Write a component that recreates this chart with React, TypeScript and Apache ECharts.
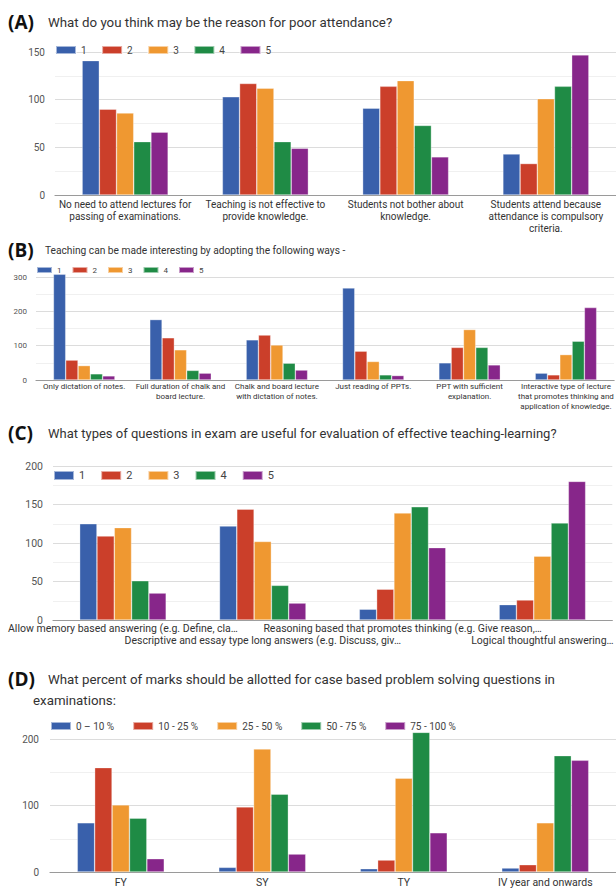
import React, { useEffect, useRef } from "react";
import * as echarts from "echarts";

// ---------- DATA ----------
const rankNames = ["1", "2", "3", "4", "5"];
const percentNames = ["0 – 10 %", "10 - 25 %", "25 - 50 %", "50 - 75 %", "75 - 100 %"];
const palette = ["#3960ab", "#cb3f2a", "#ef9831", "#1f8b45", "#87268a"];

const panelLetters = ["(A)", "(B)", "(C)", "(D)"];
const panelTitles = [
  "What do you think may be the reason for poor attendance?",
  "Teaching can be made interesting by adopting the following ways -",
  "What types of questions in exam are useful for evaluation of effective teaching-learning?",
  "What percent of marks should be allotted for case based problem solving questions in",
];
const panelTitleD2 = "examinations:";

// Panel A
const aCategories = [
  "No need to attend lectures for\npassing of examinations.",
  "Teaching is not effective to\nprovide knowledge.",
  "Students not bother about\nknowledge.",
  "Students attend because\nattendance is compulsory\ncriteria.",
];
const aTicks = [0, 50, 100, 150];
const aSeries = [
  [141, 103, 91, 43],
  [90, 117, 114, 33],
  [86, 112, 120, 101],
  [56, 56, 73, 114],
  [66, 49, 40, 147],
];

// Panel B
const bCategories = [
  "Only dictation of notes.",
  "Full duration of chalk and\nboard lecture.",
  "Chalk and board lecture\nwith dictation of notes.",
  "Just reading of PPTs.",
  "PPT with sufficient\nexplanation.",
  "Interactive type of lecture\nthat promotes thinking and\napplication of knowledge.",
];
const bTicks = [0, 100, 200, 300];
const bSeries = [
  [308, 176, 117, 268, 50, 20],
  [58, 123, 131, 84, 95, 15],
  [42, 88, 102, 54, 147, 74],
  [18, 28, 49, 15, 95, 113],
  [12, 20, 29, 13, 44, 211],
];

// Panel C
const cCategories = [
  "Allow memory based answering (e.g. Define, cla…",
  "Descriptive and essay type long answers (e.g. Discuss, giv…",
  "Reasoning based that promotes thinking (e.g. Give reason,…",
  "Logical thoughtful answering…",
];
const cTicks = [0, 50, 100, 150, 200];
const cSeries = [
  [125, 122, 14, 20],
  [109, 144, 40, 26],
  [120, 102, 139, 83],
  [51, 45, 147, 126],
  [35, 22, 94, 180],
];

// Panel D
const dCategories = ["FY", "SY", "TY", "IV year and onwards"];
const dTicks = [0, 100, 200];
const dSeries = [
  [74, 7, 5, 6],
  [157, 98, 18, 11],
  [101, 185, 141, 74],
  [81, 117, 210, 175],
  [20, 27, 59, 168],
];

// ---------- LAYOUT ----------
const FONT = "Roboto";
const panels = [
  {
    grid: { left: 55, top: 52, width: 562, height: 143 },
    cats: aCategories, ticks: aTicks, series: aSeries, names: rankNames,
    barWidth: 17.2, yFont: 10, yMargin: 10, xFont: 10, xLine: 12, xMargin: 3,
    legend: { left: 55, top: 45, itemWidth: 20, itemHeight: 8, itemGap: 14.5, fontSize: 10 },
    stagger: false,
  },
  {
    grid: { left: 36, top: 277, width: 588, height: 103 },
    cats: bCategories, ticks: bTicks, series: bSeries, names: rankNames,
    barWidth: 12.3, yFont: 8, yMargin: 9, xFont: 8, xLine: 10, xMargin: 1,
    legend: { left: 36, top: 266, itemWidth: 15, itemHeight: 6, itemGap: 10, fontSize: 8 },
    stagger: false,
  },
  {
    grid: { left: 53, top: 466, width: 564, height: 154 },
    cats: cCategories, ticks: cTicks, series: cSeries, names: rankNames,
    barWidth: 17.3, yFont: 10.5, yMargin: 10, xFont: 10.5, xLine: 12, xMargin: 2.5,
    legend: { left: 53, top: 470, itemWidth: 20, itemHeight: 9, itemGap: 15, fontSize: 11 },
    stagger: true,
  },
  {
    grid: { left: 50, top: 739, width: 572, height: 134 },
    cats: dCategories, ticks: dTicks, series: dSeries, names: percentNames,
    barWidth: 17.4, yFont: 10, yMargin: 11, xFont: 10.5, xLine: 12, xMargin: 4,
    legend: { left: 50, top: 721, itemWidth: 20, itemHeight: 8, itemGap: 18, fontSize: 10 },
    stagger: false,
  },
];

const titleY = [22, 250, 433, 679];
const titleFont = ["13.3px", "10.2px", "13px", "13.3px"];

function buildOption() {
  const grid: any[] = [];
  const xAxis: any[] = [];
  const yAxis: any[] = [];
  const series: any[] = [];
  const legend: any[] = [];

  panels.forEach((p, pi) => {
    grid.push({ ...p.grid, containLabel: false });
    xAxis.push({
      type: "category",
      gridIndex: pi,
      data: p.cats,
      axisTick: { show: false },
      axisLine: { lineStyle: { color: "#9a9a9a", width: 1.2 } },
      axisLabel: {
        interval: 0,
        color: "#333",
        fontFamily: FONT,
        fontSize: p.xFont,
        lineHeight: p.xLine,
        margin: p.xMargin,
        formatter: p.stagger
          ? (v: string, i: number) => (i % 2 === 1 ? "\n" + v : v)
          : undefined,
      },
    });
    const step = p.ticks[1] - p.ticks[0];
    yAxis.push({
      type: "value",
      gridIndex: pi,
      min: p.ticks[0],
      max: p.ticks[p.ticks.length - 1],
      interval: step,
      axisLine: { show: false },
      axisTick: { show: false },
      axisLabel: { color: "#555", fontFamily: FONT, fontSize: p.yFont, margin: p.yMargin },
      splitLine: { lineStyle: { color: "#dcdcdc", width: 1 } },
      minorTick: { show: false, splitNumber: 2 },
      minorSplitLine: { show: true, lineStyle: { color: "#f0f0f0", width: 1 } },
    });
    p.series.forEach((vals, si) => {
      series.push({
        type: "bar",
        name: p.names[si],
        xAxisIndex: pi,
        yAxisIndex: pi,
        data: vals,
        barWidth: p.barWidth,
        barGap: "0%",
        clip: false,
        itemStyle: {
          color: palette[si],
          borderColor: "rgba(255,255,255,0.55)",
          borderWidth: 0.6,
        },
      });
    });
    legend.push({
      left: p.legend.left,
      top: p.legend.top,
      padding: 0,
      orient: "horizontal",
      icon: "rect",
      itemWidth: p.legend.itemWidth,
      itemHeight: p.legend.itemHeight,
      itemGap: p.legend.itemGap,
      selectedMode: false,
      data: p.names,
      textStyle: { color: "#444", fontFamily: FONT, fontSize: p.legend.fontSize },
    });
  });

  const graphic: any[] = [];
  panelLetters.forEach((letter, i) => {
    graphic.push({
      type: "text",
      x: 8,
      y: titleY[i],
      style: {
        text: letter,
        font: 'bold 19px "Open Sans"',
        fill: "#111",
        verticalAlign: "middle",
      },
    });
    graphic.push({
      type: "text",
      x: i === 1 ? 45 : 48,
      y: titleY[i],
      style: {
        text: panelTitles[i],
        font: `${titleFont[i]} ${FONT}`,
        fill: "#333",
        verticalAlign: "middle",
      },
    });
  });
  graphic.push({
    type: "text",
    x: 33,
    y: 700,
    style: { text: panelTitleD2, font: `13.3px ${FONT}`, fill: "#333", verticalAlign: "middle" },
  });

  return {
    animation: false,
    backgroundColor: "#ffffff",
    grid,
    xAxis,
    yAxis,
    series,
    legend,
    graphic,
  };
}

export default function App() {
  const ref = useRef<HTMLDivElement>(null);
  useEffect(() => {
    if (!ref.current) return;
    const chart = echarts.init(ref.current, undefined, { renderer: "svg" });
    chart.setOption(buildOption() as any);
    return () => chart.dispose();
  }, []);
  return (
    <div
      ref={ref}
      style={{ position: "fixed", left: 0, top: 0, width: 616, height: 888, background: "#fff" }}
    />
  );
}
